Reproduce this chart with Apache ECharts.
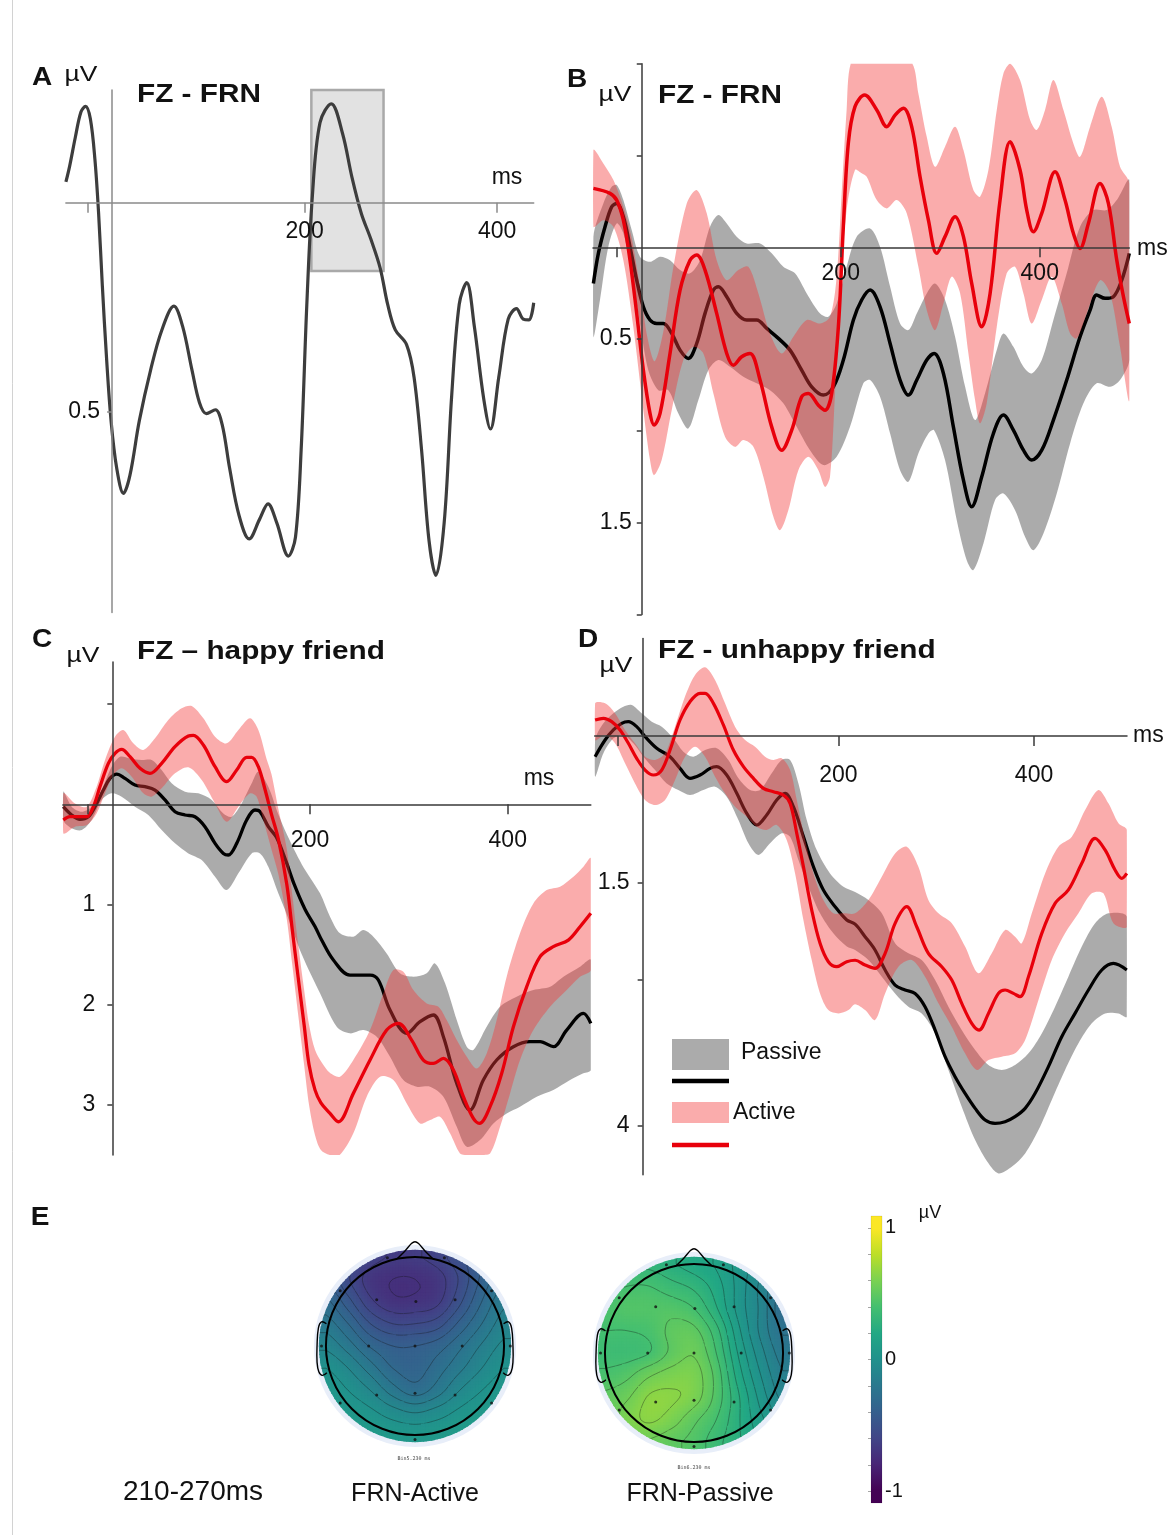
<!DOCTYPE html>
<html>
<head>
<meta charset="utf-8">
<script src="https://cdn.jsdelivr.net/npm/echarts@6/dist/echarts.min.js"></script>
<style>html,body{margin:0;padding:0;background:#fff;}#chart{width:1175px;height:1535px;}</style>
</head>
<body>
<div id="chart"></div>
<script>
// ================= DATA (time in ms, amplitude in µV) =================
const xTicks = [-25, 200, 400];
const xTickLabels = [200, 400];
const aYTicks = [0.5], aYLabels = [0.5];
const bYTicks = [-1, -0.5, 0.5, 1, 1.5, 2], bYLabels = [0.5, 1.5];
const cYTicks = [-1, 1, 2, 3], cYLabels = [1, 2, 3];
const dYTicks = [1.5, 2.5, 4], dYLabels = [1.5, 4];

// Panel A: FZ - FRN difference wave
const aFRN = [[-48,-0.05],[-44.1,-0.088],[-38.2,-0.157],[-32.3,-0.218],[-27.6,-0.231],[-22.6,-0.201],[-17.9,-0.105],[-14,0.026],[-10.1,0.2],[-5.7,0.374],[-1.1,0.521],[4.8,0.635],[11.8,0.695],[18.5,0.652],[28.3,0.521],[40,0.4],[51.7,0.304],[64.2,0.247],[73.2,0.295],[83,0.4],[90.8,0.478],[97.9,0.504],[107.3,0.495],[114.3,0.53],[122.1,0.635],[131.9,0.748],[142.4,0.804],[153.4,0.756],[162,0.72],[171,0.765],[183.1,0.845],[190.5,0.8],[196.4,0.591],[202.3,0.243],[208.1,-0.018],[216,-0.192],[227.7,-0.237],[239.4,-0.166],[249.2,-0.061],[259,0.026],[268.7,0.086],[278.5,0.156],[286.3,0.243],[294.2,0.304],[305.9,0.339],[313.7,0.417],[321.5,0.591],[329.3,0.809],[336.4,0.891],[345,0.765],[352.8,0.461],[360.6,0.243],[368.4,0.191],[376.3,0.295],[386.1,0.469],[393.1,0.541],[401.7,0.417],[411.5,0.278],[420.1,0.253],[427.1,0.278],[433,0.28],[438,0.239]];
const aWindow = [207, 282];        // ms
const aWindowAmp = [-0.27, 0.163]; // µV

// Panel B: FZ - FRN, Active vs Passive
const bActive = [[-48.6,-0.321],[-31.9,-0.294],[-25.2,-0.257],[-18.5,-0.148],[-11.8,0.07],[-5.1,0.36],[1.6,0.669],[8.3,0.905],[12.3,0.968],[18.4,0.905],[28.4,0.578],[38.5,0.233],[48.5,0.07],[55.2,0.042],[63.6,0.124],[75.3,0.36],[85.4,0.578],[92.1,0.642],[100.4,0.596],[108.8,0.578],[118.9,0.723],[130.6,0.978],[140.6,1.105],[150.7,0.996],[160.7,0.814],[167.4,0.796],[177.5,0.86],[184.2,0.887],[190.9,0.796],[197.6,0.433],[202.6,-0.112],[207.6,-0.566],[214.3,-0.766],[224,-0.829],[236.2,-0.748],[246.2,-0.657],[254.6,-0.72],[263,-0.757],[271.3,-0.657],[279.7,-0.384],[288.1,-0.148],[296.5,0.033],[304.8,-0.058],[314.9,-0.167],[323.3,-0.058],[331.6,0.197],[341.7,0.433],[350.1,0.251],[360.1,-0.257],[370.2,-0.575],[380.2,-0.421],[386.9,-0.203],[393.6,-0.085],[402,-0.185],[415.4,-0.412],[425.4,-0.257],[433.8,-0.076],[440.5,0.006],[448.9,-0.13],[460.6,-0.348],[469,-0.239],[477.4,0.07],[484.1,0.269],[490,0.415]];
const bActiveUpper = [[-48.6,-0.53],[-38.6,-0.457],[-28.5,-0.366],[-18.5,-0.221],[-10.1,-0.05],[-1,0.25],[6,0.5],[13,0.62],[22,0.45],[32,0.1],[45.2,-0.239],[55.2,-0.312],[65.3,-0.185],[75.3,0.07],[85.4,0.179],[97.1,0.124],[107.1,0.106],[117.2,0.251],[128.9,0.469],[140.6,0.578],[152.4,0.487],[165.8,0.396],[179.2,0.415],[189.2,0.378],[195.9,0.16],[200.9,-0.294],[205.9,-0.748],[210,-1.05],[220,-1.25],[240,-1.3],[260,-1.25],[272,-1.05],[278,-0.838],[286.4,-0.602],[294.8,-0.439],[304.8,-0.548],[314.9,-0.657],[323.3,-0.53],[333.3,-0.312],[340,-0.276],[348.4,-0.421],[356.8,-0.748],[363.5,-0.947],[370.2,-1.02],[380.2,-0.911],[390.3,-0.693],[397,-0.639],[405.3,-0.748],[413.7,-0.911],[423.8,-0.748],[433.8,-0.566],[440.5,-0.493],[450.6,-0.657],[462.3,-0.82],[472.3,-0.657],[480.7,-0.439],[490,-0.348]];
const bActiveLower = [[-48.6,-0.112],[-38.6,-0.148],[-28.5,-0.112],[-18.5,0.07],[-8.5,0.433],[1.6,0.887],[8.3,1.159],[12.3,1.241],[20,1.159],[30.1,0.887],[41.8,0.614],[51.9,0.542],[61.9,0.578],[72,0.796],[83.7,1.032],[93.8,1.087],[102.1,1.05],[112.2,1.087],[122.2,1.25],[132.3,1.468],[138.9,1.541],[147.3,1.432],[157.4,1.214],[167.4,1.141],[177.5,1.214],[184.2,1.305],[189.2,1.25],[194.2,0.796],[199.3,0.251],[205.9,-0.203],[214.3,-0.421],[221,-0.403],[226.1,-0.384],[236.2,-0.257],[246.2,-0.212],[256.3,-0.257],[266.3,-0.185],[278,0.106],[286.4,0.342],[294.8,0.451],[303.2,0.306],[311.5,0.16],[320,0.251],[328.3,0.578],[335,0.832],[340,0.959],[346.7,0.85],[356.8,0.433],[366.8,0.142],[375.2,0.106],[383.6,0.251],[391.9,0.415],[402,0.287],[412,0.16],[422.1,0.306],[430.5,0.469],[437.2,0.496],[447.2,0.36],[460.6,0.179],[470.7,0.251],[480.7,0.542],[490,0.832]];
const bPassive = [[-48.6,0.197],[-43.6,0.033],[-36.9,-0.112],[-30.2,-0.221],[-25.2,-0.239],[-18.5,-0.166],[-11.8,-0.003],[-5.1,0.179],[1.6,0.324],[8.3,0.396],[15,0.415],[21.7,0.415],[30.1,0.469],[38.5,0.56],[46.8,0.605],[55.2,0.524],[63.6,0.36],[72,0.233],[77,0.215],[85.4,0.269],[95.4,0.36],[105.5,0.396],[115.5,0.396],[125.6,0.442],[137.3,0.496],[149,0.56],[160.7,0.669],[170.8,0.76],[182.5,0.805],[192.6,0.76],[202.6,0.614],[212.7,0.396],[221,0.287],[229.5,0.233],[239.5,0.324],[249.6,0.524],[259.6,0.723],[268,0.805],[276.4,0.723],[286.4,0.614],[293.8,0.578],[303.2,0.687],[313.2,0.978],[323.3,1.268],[331.6,1.413],[341.7,1.25],[353.4,1.014],[363.5,0.914],[373.5,0.996],[383.6,1.105],[391.9,1.159],[402,1.105],[413.7,0.941],[427.1,0.723],[440.5,0.487],[450.6,0.342],[457.2,0.26],[465.6,0.278],[474,0.269],[482.4,0.179],[490,0.033]];
const bPassiveUpper = [[-48.6,-0.058],[-38.6,-0.239],[-30.2,-0.33],[-25.2,-0.339],[-18.5,-0.257],[-10.1,-0.094],[-1.8,0.051],[8.3,0.079],[18.4,0.051],[28.4,0.07],[38.5,0.124],[48.5,0.142],[58.6,0.07],[68.6,-0.112],[77,-0.176],[85.4,-0.13],[95.4,-0.058],[105.5,-0.021],[118.9,-0.021],[130.6,0.033],[142.3,0.106],[154,0.142],[165.8,0.251],[179.2,0.36],[187.5,0.378],[195.9,0.306],[205.9,0.106],[216,-0.058],[229.5,-0.103],[239.5,-0.003],[249.6,0.215],[259.6,0.415],[268,0.451],[276.4,0.36],[286.4,0.251],[294.8,0.197],[304.8,0.287],[314.9,0.487],[325,0.76],[335,0.941],[345,0.796],[356.8,0.56],[363.5,0.469],[373.5,0.542],[383.6,0.651],[391.9,0.687],[402,0.614],[413.7,0.396],[427.1,0.142],[440.5,-0.112],[453.9,-0.203],[467.3,-0.203],[477.4,-0.257],[490,-0.366]];
const bPassiveLower = [[-48.6,0.487],[-42,0.287],[-33.6,-0.003],[-25.2,-0.13],[-18.5,-0.076],[-10.1,0.142],[-1.8,0.415],[6.6,0.669],[16.7,0.778],[26.7,0.778],[36.8,0.905],[46.8,0.987],[56.9,0.832],[66.9,0.669],[77,0.614],[88.7,0.651],[102.1,0.705],[115.5,0.741],[128.9,0.778],[142.3,0.85],[155.7,0.978],[169.1,1.105],[182.5,1.186],[195.9,1.141],[209.3,0.978],[222.7,0.741],[229.5,0.723],[239.5,0.814],[249.6,1.014],[259.6,1.214],[268,1.277],[278,1.123],[288.1,1.014],[293.8,0.996],[304.8,1.159],[316.6,1.486],[326.6,1.704],[333.3,1.758],[343.4,1.613],[355.1,1.377],[363.5,1.341],[375.2,1.432],[385.2,1.577],[393.6,1.65],[403.7,1.559],[417.1,1.341],[430.5,1.068],[443.9,0.85],[457.2,0.741],[470.7,0.76],[480.7,0.723],[490,0.614]];

// Panel C: FZ - happy friend
const cActive = [[-49.6,0.157],[-42.8,0.124],[-34.4,0.124],[-26,0.124],[-19.2,0.024],[-12.5,-0.176],[-4,-0.409],[2.7,-0.508],[9.4,-0.548],[17.9,-0.475],[28,-0.359],[38.1,-0.309],[49.9,-0.409],[63.4,-0.575],[76.9,-0.681],[81.9,-0.688],[92.1,-0.592],[103.9,-0.375],[115.7,-0.226],[125.8,-0.342],[135.9,-0.469],[141,-0.469],[147.7,-0.375],[154.4,-0.15],[161,0.1],[168,0.35],[176.5,0.8],[182,1.25],[188,1.73],[194,2.2],[199,2.6],[205,2.85],[211,2.98],[220.2,3.085],[228.6,3.168],[243.8,2.885],[260.7,2.552],[277.5,2.253],[289.3,2.186],[302.8,2.353],[314.6,2.552],[324.7,2.586],[334.9,2.536],[345,2.652],[355.1,2.918],[365.2,3.135],[371.3,3.185],[382.1,3.018],[393.9,2.685],[405.7,2.22],[419.2,1.82],[432.7,1.521],[446.1,1.421],[461.3,1.355],[473.1,1.222],[484,1.088]];
const cActiveUpper = [[-49.6,-0.109],[-37.8,-0.009],[-26,0.024],[-15.9,-0.176],[-7.4,-0.442],[2.7,-0.675],[11.1,-0.741],[21.2,-0.608],[31.4,-0.542],[43.2,-0.658],[56.6,-0.841],[70.1,-0.958],[80.3,-0.981],[92.1,-0.858],[103.9,-0.675],[115.7,-0.608],[127.5,-0.741],[139.3,-0.858],[147.7,-0.741],[156.1,-0.45],[161,-0.3],[168,0.05],[176.5,0.45],[182,0.9],[188,1.4],[194,1.85],[199,2.2],[205,2.45],[212,2.58],[220,2.68],[230.3,2.719],[243.8,2.552],[260.7,2.253],[274.2,1.887],[284.3,1.654],[294.4,1.671],[304.5,1.854],[318,1.987],[329.8,2.02],[338.2,2.153],[348.4,2.353],[358.5,2.519],[368.6,2.636],[378.7,2.486],[388.8,2.153],[398.9,1.721],[412.4,1.288],[425.9,0.989],[439.4,0.856],[452.9,0.822],[466.4,0.723],[476.5,0.623],[484,0.54]];
const cActiveLower = [[-49.6,0.29],[-37.8,0.224],[-26,0.207],[-15.9,0.091],[-7.4,-0.109],[1,-0.292],[9.4,-0.359],[19.6,-0.276],[31.4,-0.109],[39.8,-0.076],[49.9,-0.159],[63.4,-0.309],[76.9,-0.369],[90.4,-0.242],[103.9,-0.009],[115.7,0.174],[127.5,0.024],[139.3,-0.109],[146,-0.076],[152.8,0.157],[161,0.45],[168,0.7],[176.5,1.15],[182,1.6],[188,2.1],[194,2.6],[199,3.0],[205,3.3],[211,3.45],[220,3.55],[230,3.6],[243.8,3.284],[257.3,2.918],[270.8,2.719],[284.3,2.752],[297.8,2.985],[311.3,3.185],[321.4,3.151],[331.5,3.118],[341.6,3.284],[351.7,3.484],[358.5,3.62],[371.9,3.65],[382.1,3.484],[392.2,3.218],[402.3,2.885],[412.4,2.552],[425.9,2.253],[442.8,2.02],[459.6,1.854],[473.1,1.721],[484,1.654]];
const cPassive = [[-49.6,0.024],[-41.1,0.107],[-32.7,0.15],[-24.3,0.124],[-17.5,0.024],[-9.1,-0.142],[-2.4,-0.259],[4.4,-0.302],[12.8,-0.259],[22.9,-0.192],[33,-0.176],[43.2,-0.142],[53.3,-0.043],[63.4,0.074],[73.5,0.107],[83.6,0.124],[93.7,0.223],[103.9,0.39],[112.3,0.49],[117.3,0.506],[125.8,0.39],[135.9,0.157],[144.3,0.057],[149.4,0.074],[157.8,0.223],[166,0.33],[175,0.55],[184,0.8],[195,1.05],[205,1.22],[212,1.36],[223.6,1.554],[240.4,1.704],[260.7,1.704],[269.1,1.754],[280.9,2.053],[297.8,2.286],[311.3,2.17],[324.7,2.103],[334.9,2.32],[348.4,2.785],[361.8,3.051],[375.3,2.752],[388.8,2.552],[405.7,2.419],[422.5,2.369],[432.7,2.369],[446.1,2.419],[459.6,2.253],[476.5,2.087],[484,2.186]];
const cPassiveUpper = [[-49.6,-0.126],[-41.1,0.024],[-31,0.074],[-20.9,0.024],[-10.8,-0.142],[-0.7,-0.375],[7.8,-0.475],[17.9,-0.458],[29.7,-0.442],[39.8,-0.442],[49.9,-0.342],[60,-0.209],[73.5,-0.126],[87,-0.109],[100.5,-0.043],[112.3,0.091],[120.7,0.124],[130.8,-0.009],[141,-0.209],[147.7,-0.325],[157.8,-0.176],[167.9,0.1],[176.5,0.3],[191.7,0.6],[210.1,0.889],[220.2,1.122],[230.3,1.288],[243.8,1.321],[253.9,1.255],[264,1.321],[277.5,1.488],[291,1.687],[304.5,1.721],[318,1.687],[326.4,1.588],[336.6,1.787],[348.4,2.153],[358.5,2.419],[365.2,2.452],[378.7,2.22],[392.2,2.02],[409,1.92],[425.9,1.854],[442.8,1.821],[456.3,1.721],[473.1,1.621],[484,1.554]];
const cPassiveLower = [[-49.6,0.157],[-41.1,0.24],[-31,0.257],[-20.9,0.157],[-10.8,-0.043],[-0.7,-0.109],[9.4,-0.076],[22.9,0.024],[36.4,0.107],[49.9,0.257],[63.4,0.39],[76.9,0.49],[90.4,0.556],[103.9,0.722],[115.7,0.856],[127.5,0.689],[141,0.49],[149.4,0.49],[157.8,0.623],[167.9,0.889],[176.5,1.1],[191.7,1.5],[210.1,1.887],[227,2.22],[240.4,2.286],[253.9,2.253],[267.4,2.32],[280.9,2.519],[294.4,2.752],[307.9,2.818],[321.4,2.818],[334.9,2.918],[348.4,3.218],[358.5,3.418],[371.9,3.351],[385.5,3.185],[398.9,3.085],[412.4,3.018],[429.3,2.918],[446.1,2.852],[463,2.752],[476.5,2.685],[484,2.652]];

// Panel D: FZ - unhappy friend
const dActive = [[-48.6,-0.164],[-40.1,-0.181],[-31.6,-0.147],[-23.1,-0.062],[-14.6,0.075],[-6.1,0.229],[2.5,0.349],[11,0.4],[19.5,0.349],[28,0.144],[38.2,-0.164],[48.4,-0.352],[58.7,-0.438],[63.8,-0.438],[72.3,-0.335],[82.5,-0.113],[92.7,0.144],[103,0.314],[113.2,0.434],[123.4,0.537],[133.6,0.571],[143.8,0.605],[150.7,0.691],[157.5,0.998],[164.3,1.34],[172.8,1.785],[181.3,2.126],[189.8,2.315],[198.4,2.366],[208.6,2.315],[217.1,2.3],[227.3,2.349],[237.5,2.383],[247.8,2.229],[258,1.921],[269.9,1.75],[280.1,1.956],[292,2.229],[305.7,2.366],[315.9,2.503],[326.1,2.742],[336.3,2.947],[343.8,3.016],[353.4,2.845],[363.6,2.64],[370.4,2.605],[378.9,2.64],[385.7,2.674],[394.3,2.469],[407.9,2.024],[421.5,1.716],[435.1,1.579],[448.8,1.306],[462.4,1.05],[472.6,1.169],[482.8,1.374],[489.7,1.46],[494.8,1.409]];
const dActiveUpper = [[-48.6,-0.335],[-38.4,-0.335],[-28.2,-0.233],[-18,-0.062],[-7.8,0.075],[2.5,0.212],[12.7,0.246],[22.9,0.178],[33.1,-0.096],[43.3,-0.404],[53.6,-0.626],[63.8,-0.704],[74,-0.574],[84.2,-0.335],[94.4,-0.096],[104.7,0.041],[114.9,0.109],[125.1,0.212],[133.6,0.246],[142.1,0.229],[150.7,0.349],[157.5,0.656],[166,1.067],[174.5,1.409],[184.7,1.682],[194.9,1.819],[205.2,1.819],[217.1,1.819],[230.7,1.682],[244.4,1.443],[258,1.204],[269.9,1.135],[281.8,1.34],[292,1.682],[302.3,1.819],[315.9,1.921],[329.5,2.16],[343.2,2.434],[356.8,2.229],[370.4,1.99],[380.6,2.058],[387.5,2.126],[397.7,1.819],[411.3,1.409],[424.9,1.135],[438.6,1.033],[452.2,0.759],[465.8,0.554],[476,0.691],[486.3,0.896],[494.8,0.964]];
const dActiveLower = [[-48.6,0.041],[-38.4,-0.01],[-28.2,0.075],[-18,0.28],[-7.8,0.486],[2.5,0.656],[12.7,0.708],[22.9,0.656],[33.1,0.451],[43.3,0.212],[53.6,0.109],[63.8,0.212],[74,0.417],[84.2,0.588],[94.4,0.725],[106.4,0.827],[116.6,0.93],[126.8,0.964],[137,0.913],[147.2,1.067],[155.8,1.409],[164.3,1.887],[172.8,2.298],[181.3,2.64],[189.8,2.811],[200.1,2.845],[210.3,2.811],[217.1,2.75],[227.3,2.811],[237.5,2.913],[247.8,2.64],[261.4,2.366],[275,2.298],[288.6,2.469],[302.3,2.742],[315.9,2.981],[329.5,3.255],[341.5,3.426],[353.4,3.323],[367,3.289],[380.6,3.255],[390.9,3.118],[404.5,2.708],[418.1,2.298],[431.7,2.024],[445.4,1.819],[459,1.614],[470.9,1.614],[481.1,1.921],[494.8,1.956]];
const dPassive = [[-48.6,0.212],[-38.4,0.041],[-29.9,-0.062],[-21.4,-0.13],[-14.6,-0.147],[-6.1,-0.096],[2.5,0.007],[14.4,0.126],[28,0.212],[38.2,0.332],[48.4,0.434],[58.7,0.4],[68.9,0.332],[75.7,0.315],[85.9,0.4],[96.2,0.588],[106.4,0.793],[116.6,0.913],[126.8,0.81],[137,0.656],[145.5,0.588],[154.1,0.725],[164.3,1.032],[174.5,1.34],[184.7,1.58],[196.7,1.751],[208.6,1.887],[217.1,1.93],[227.3,2.058],[237.5,2.195],[247.8,2.4],[258,2.554],[268.2,2.605],[278.4,2.64],[288.6,2.776],[298.9,3.016],[309.1,3.289],[319.3,3.494],[329.5,3.665],[339.8,3.819],[350,3.939],[360.2,3.973],[370.4,3.956],[380.6,3.904],[390.9,3.819],[401.1,3.665],[414.7,3.391],[428.3,3.084],[441.9,2.845],[455.6,2.605],[469.2,2.4],[481.1,2.332],[494.8,2.4]];
const dPassiveUpper = [[-48.6,0.041],[-40.1,-0.13],[-29.9,-0.233],[-19.7,-0.301],[-11.2,-0.318],[-1,-0.233],[9.3,-0.147],[19.5,-0.096],[31.4,0.024],[41.6,0.161],[51.9,0.212],[63.8,0.144],[75.7,0.126],[87.6,0.246],[97.9,0.434],[109.8,0.554],[120,0.554],[131.9,0.383],[142.1,0.246],[150.7,0.246],[159.2,0.486],[167.7,0.862],[177.9,1.17],[191.5,1.409],[205.2,1.545],[217.1,1.6],[230.7,1.682],[244.4,1.819],[258,2.126],[271.6,2.229],[285.2,2.298],[298.9,2.503],[312.5,2.776],[326.1,3.016],[339.8,3.221],[353.4,3.375],[367,3.426],[380.6,3.375],[394.3,3.255],[407.9,3.05],[421.5,2.776],[435.1,2.469],[448.8,2.16],[462.4,1.921],[476,1.819],[494.8,1.853]];
const dPassiveLower = [[-48.6,0.417],[-40.1,0.178],[-29.9,0.024],[-19.7,-0.01],[-9.5,0.075],[0.8,0.212],[12.7,0.349],[24.6,0.486],[36.5,0.554],[48.4,0.605],[62.1,0.554],[74,0.52],[85.9,0.622],[97.9,0.862],[108.1,1.101],[118.3,1.221],[130.2,1.101],[142.1,0.998],[150.7,1.033],[159.2,1.272],[169.4,1.545],[181.3,1.819],[194.9,2.024],[208.6,2.16],[217.1,2.195],[230.7,2.298],[244.4,2.469],[258,2.64],[271.6,2.776],[285.2,2.845],[298.9,3.05],[312.5,3.426],[326.1,3.802],[339.8,4.144],[353.4,4.383],[363.6,4.486],[377.2,4.418],[390.9,4.281],[404.5,4.042],[418.1,3.733],[431.7,3.426],[445.4,3.152],[459,2.947],[472.6,2.845],[486.3,2.845],[494.8,2.879]];

// Panel E: scalp maps 210-270 ms (µV on a 9x9 grid over the head, rows top->bottom)
const topoX = [-1, -0.75, -0.5, -0.25, 0, 0.25, 0.5, 0.75, 1];
const topoY = [1, 0.75, 0.5, 0.25, 0, -0.25, -0.5, -0.75, -1];
const topoActive = [
  [-0.45,-0.5,-0.6,-0.65,-0.65,-0.6,-0.5,-0.4,-0.3],
  [-0.4,-0.55,-0.68,-0.72,-0.72,-0.68,-0.55,-0.38,-0.25],
  [-0.3,-0.45,-0.62,-0.7,-0.7,-0.66,-0.5,-0.32,-0.18],
  [-0.2,-0.32,-0.48,-0.56,-0.56,-0.52,-0.38,-0.24,-0.12],
  [-0.1,-0.2,-0.33,-0.4,-0.4,-0.36,-0.26,-0.15,-0.06],
  [0.0,-0.08,-0.2,-0.32,-0.36,-0.28,-0.18,-0.08,0.0],
  [0.06,0.0,-0.08,-0.2,-0.28,-0.2,-0.08,0.0,0.05],
  [0.1,0.06,0.02,-0.04,-0.08,-0.04,0.02,0.06,0.08],
  [0.12,0.1,0.08,0.06,0.05,0.06,0.08,0.1,0.1]
];
const topoPassive = [
  [0.3,0.3,0.3,0.25,0.2,0.15,0.05,-0.05,-0.15],
  [0.36,0.4,0.4,0.35,0.3,0.2,0.05,-0.1,-0.25],
  [0.42,0.45,0.45,0.45,0.4,0.25,0.05,-0.1,-0.3],
  [0.4,0.4,0.42,0.5,0.5,0.35,0.1,-0.1,-0.25],
  [0.37,0.37,0.4,0.5,0.55,0.4,0.15,-0.05,-0.2],
  [0.42,0.46,0.55,0.6,0.6,0.45,0.2,0.0,-0.15],
  [0.5,0.55,0.65,0.65,0.6,0.45,0.25,0.05,-0.1],
  [0.5,0.6,0.65,0.6,0.5,0.4,0.25,0.1,0.0],
  [0.5,0.55,0.55,0.5,0.45,0.35,0.25,0.15,0.1]
];
const electrodes = [[-0.31,0.99],[0.33,0.99],[-0.84,0.62],[-0.43,0.52],[0.01,0.5],[0.45,0.52],[0.86,0.62],[-1.05,0],[-0.52,0],[0,0],[0.53,0],[1.07,0],[-0.84,-0.64],[-0.43,-0.55],[0,-0.53],[0.45,-0.55],[0.86,-0.64],[0,-1.05]];
const cbarTicks = [-1,-0.8,-0.6,-0.4,-0.2,0,0.2,0.4,0.6,0.8,1];
const cbarLabels = [-1, 0, 1];
const cbarExtent = [-1.09, 1.09];

// ================= STYLE / HELPERS =================
const FONT = '"Liberation Sans", Arial, Helvetica, sans-serif';
const PASSIVE_BAND = 'rgba(105,105,105,0.56)';
const ACTIVE_BAND = 'rgba(242,58,58,0.42)';
const PASSIVE_LINE = '#000000';
const ACTIVE_LINE = '#e8000b';
const VIR = ['#440154','#482475','#414487','#355f8d','#2a788e','#21918c','#22a884','#44bf70','#7ad151','#bddf26','#fde725']
  .map(h => [parseInt(h.slice(1,3),16), parseInt(h.slice(3,5),16), parseInt(h.slice(5,7),16)]);
function viridis(v) {
  let t = (v + 1) / 2; t = Math.max(0, Math.min(1, t));
  const p = t * 10, i = Math.min(9, Math.floor(p)), f = p - i, a = VIR[i], b = VIR[i + 1];
  return 'rgb(' + Math.round(a[0] + (b[0] - a[0]) * f) + ',' + Math.round(a[1] + (b[1] - a[1]) * f) + ',' + Math.round(a[2] + (b[2] - a[2]) * f) + ')';
}
function cr(p0, p1, p2, p3, t) {
  return 0.5 * (2 * p1 + (-p0 + p2) * t + (2 * p0 - 5 * p1 + 4 * p2 - p3) * t * t + (-p0 + 3 * p1 - 3 * p2 + p3) * t * t * t);
}
function fieldValue(g, x, y) {
  let gc = (x - topoX[0]) / (topoX[1] - topoX[0]), gr = (topoY[0] - y) / (topoY[0] - topoY[1]);
  gc = Math.max(0, Math.min(8, gc)); gr = Math.max(0, Math.min(8, gr));
  const c0 = Math.min(7, Math.floor(gc)), r0 = Math.min(7, Math.floor(gr));
  const fc = gc - c0, fr = gr - r0;
  const G = (r, c) => g[Math.max(0, Math.min(8, r))][Math.max(0, Math.min(8, c))];
  const rows = [];
  for (let k = -1; k <= 2; k++) rows.push(cr(G(r0 + k, c0 - 1), G(r0 + k, c0), G(r0 + k, c0 + 1), G(r0 + k, c0 + 2), fc));
  return cr(rows[0], rows[1], rows[2], rows[3], fr);
}

function bandSeries(name, idx, upper, lower, color, z) {
  return {
    type: 'custom', name, xAxisIndex: idx, yAxisIndex: idx, z, silent: true,
    data: upper.concat(lower.slice().reverse()),
    encode: { x: 0, y: 1 },
    renderItem: function (params, api) {
      if (params.dataIndexInside !== 0) return null;
      const n = params.dataInsideLength, pts = [];
      for (let i = 0; i < n; i++) pts.push(api.coord([api.value(0, i), api.value(1, i)]));
      const cs = params.coordSys;
      const clipped = echarts.graphic.clipPointsByRect(pts, cs);
      return {
        type: 'polygon',
        shape: { points: clipped, smooth: 0.3, smoothConstraint: [[cs.x, cs.y], [cs.x + cs.width, cs.y + cs.height]] },
        style: { fill: color }
      };
    }
  };
}
function lineSeries(name, idx, data, color, width, z) {
  return { type: 'line', name, xAxisIndex: idx, yAxisIndex: idx, data, z, silent: true,
    showSymbol: false, symbol: 'none', smooth: 0.35, lineStyle: { color, width } };
}

// ERP panel layout: grid box + axis ranges; the axes are moved onto the zero lines via offset
const panels = [
  { grid: { left: 65.9, top: 90, width: 467.8, height: 522.5 }, x: [-48, 438], y: [-0.27, 0.98], yT: aYTicks, yL: aYLabels, xm: 17, ym: 12, col: '#8a8a8a' },
  { grid: { left: 593, top: 63.7, width: 536.3, height: 550.8 }, x: [-49, 490], y: [-1, 2], yT: bYTicks, yL: bYLabels, xm: 15, ym: 10, col: '#3a3a3a' },
  { grid: { left: 62.9, top: 662, width: 527.9, height: 493 }, x: [-50, 484], y: [-1.42, 3.5], yT: cYTicks, yL: cYLabels, xm: 25, ym: 17, col: '#3a3a3a' },
  { grid: { left: 594.7, top: 638.5, width: 532.3, height: 536.25 }, x: [-49, 495], y: [-1, 4.5], yT: dYTicks, yL: dYLabels, xm: 28, ym: 13, col: '#3a3a3a' }
];
function erpX(gi, p) {
  const off = -p.grid.height * p.y[1] / (p.y[1] - p.y[0]);
  return { gridIndex: gi, type: 'value', min: p.x[0], max: p.x[1], position: 'bottom', offset: off, z: 8,
    axisLine: { onZero: false, lineStyle: { color: p.col, width: 1.5 } },
    axisTick: { show: true, length: 10, customValues: xTicks, lineStyle: { color: p.col, width: 1.5 } },
    axisLabel: { show: true, customValues: xTickLabels, margin: p.xm, fontSize: 23, fontFamily: FONT, color: '#111' },
    splitLine: { show: false } };
}
function erpY(gi, p) {
  const off = -p.grid.width * (0 - p.x[0]) / (p.x[1] - p.x[0]);
  return { gridIndex: gi, type: 'value', inverse: true, min: p.y[0], max: p.y[1], position: 'left', offset: off, z: 8,
    axisLine: { onZero: false, lineStyle: { color: p.col, width: 1.5 } },
    axisTick: { show: true, length: 5, customValues: p.yT, lineStyle: { color: p.col, width: 1.5 } },
    axisLabel: { show: true, customValues: p.yL, margin: p.ym, fontSize: 23, fontFamily: FONT, color: '#111' },
    splitLine: { show: false } };
}
function hiddenAxis(gi, min, max) {
  return { gridIndex: gi, type: 'value', min, max, show: false, splitLine: { show: false } };
}

// scalp map layers
const HEAD_R = 1.08;
const CONTOUR_STEP = 0.08;
function topoHalo(gi) {
  return { type: 'custom', xAxisIndex: gi, yAxisIndex: gi, z: 1, silent: true, data: [[0, 0]],
    renderItem: (p, api) => {
      const c = api.coord([api.value(0), api.value(1)]), u = api.size([1, 1])[0];
      return { type: 'circle', shape: { cx: c[0], cy: c[1], r: u * 1.135 }, style: { fill: '#e8eef9' } };
    } };
}
function topoField(gi, grid) {
  const data = [];
  for (let r = 0; r < topoY.length; r++) for (let c = 0; c < topoX.length; c++) data.push([topoX[c], topoY[r], grid[r][c]]);
  return { type: 'custom', xAxisIndex: gi, yAxisIndex: gi, z: 2, silent: true, data,
    renderItem: (params, api) => {
      const cx = api.value(0), cy = api.value(1);
      const h = (topoX[1] - topoX[0]) / 2;
      const dx = Math.max(Math.abs(cx) - h, 0), dy = Math.max(Math.abs(cy) - h, 0);
      if (dx * dx + dy * dy > HEAD_R * HEAD_R) return null;
      const u = api.size([1, 1])[0], o = api.coord([0, 0]);
      const N = 8, st = 2 * h / N;
      const X = i => o[0] + (cx - h + i * st) * u;
      const Y = j => o[1] - (cy + h - j * st) * u;
      const vals = [];
      for (let j = 0; j <= N; j++) { const row = []; for (let i = 0; i <= N; i++) row.push(fieldValue(grid, cx - h + i * st, cy + h - j * st)); vals.push(row); }
      const children = [];
      for (let j = 0; j < N; j++) for (let i = 0; i < N; i++) {
        const v = (vals[j][i] + vals[j][i + 1] + vals[j + 1][i] + vals[j + 1][i + 1]) / 4;
        children.push({ type: 'rect', shape: { x: X(i) - 0.3, y: Y(j) - 0.3, width: st * u + 0.8, height: st * u + 0.8 }, style: { fill: viridis(v) } });
      }
      let path = '';
      const lvMin = -1 + CONTOUR_STEP / 2;
      for (let L = lvMin; L < 1; L += CONTOUR_STEP) {
        for (let j = 0; j < N; j++) for (let i = 0; i < N; i++) {
          const a = vals[j][i], b = vals[j][i + 1], c = vals[j + 1][i + 1], d = vals[j + 1][i];
          const pts = [];
          if ((a - L) * (b - L) < 0) { const t = (L - a) / (b - a); pts.push([X(i + t), Y(j)]); }
          if ((b - L) * (c - L) < 0) { const t = (L - b) / (c - b); pts.push([X(i + 1), Y(j + t)]); }
          if ((d - L) * (c - L) < 0) { const t = (L - d) / (c - d); pts.push([X(i + t), Y(j + 1)]); }
          if ((a - L) * (d - L) < 0) { const t = (L - a) / (d - a); pts.push([X(i), Y(j + t)]); }
          for (let k = 0; k + 1 < pts.length; k += 2)
            path += 'M' + pts[k][0].toFixed(2) + ' ' + pts[k][1].toFixed(2) + 'L' + pts[k + 1][0].toFixed(2) + ' ' + pts[k + 1][1].toFixed(2);
        }
      }
      if (path) children.push({ type: 'path', shape: { pathData: path }, style: { fill: null, stroke: 'rgba(20,20,20,0.5)', lineWidth: 0.7 } });
      return { type: 'group', children, clipPath: { type: 'circle', shape: { cx: o[0], cy: o[1], r: HEAD_R * u } } };
    } };
}
function topoOutline(gi) {
  return { type: 'custom', xAxisIndex: gi, yAxisIndex: gi, z: 3, silent: true, data: [[0, 0]],
    renderItem: (p, api) => {
      const o = api.coord([api.value(0), api.value(1)]), u = api.size([1, 1])[0];
      const P = (x, y) => [o[0] + x * u, o[1] - y * u];
      const nose = [[-0.2, 0.98], [-0.11, 1.07], [-0.04, 1.15], [0, 1.17], [0.04, 1.15], [0.11, 1.07], [0.2, 0.98]].map(q => P(q[0], q[1]));
      const earL = [[-0.995, 0.25], [-1.05, 0.27], [-1.085, 0.2], [-1.1, 0.0], [-1.1, -0.18], [-1.08, -0.29], [-1.04, -0.33], [-0.99, -0.3]].map(q => P(q[0], q[1]));
      const earR = [[0.995, 0.25], [1.05, 0.27], [1.085, 0.2], [1.1, 0.0], [1.1, -0.18], [1.08, -0.29], [1.04, -0.33], [0.99, -0.3]].map(q => P(q[0], q[1]));
      const st = { fill: null, stroke: '#000', lineWidth: 1.4 };
      return { type: 'group', children: [
        { type: 'circle', shape: { cx: o[0], cy: o[1], r: u }, style: { fill: null, stroke: '#000', lineWidth: 2 } },
        { type: 'polyline', shape: { points: nose, smooth: 0.3 }, style: st },
        { type: 'polyline', shape: { points: earL, smooth: 0.4 }, style: st },
        { type: 'polyline', shape: { points: earR, smooth: 0.4 }, style: st }
      ] };
    } };
}
function topoDots(gi) {
  return { type: 'scatter', xAxisIndex: gi, yAxisIndex: gi, z: 4, silent: true, data: electrodes,
    symbolSize: 3, itemStyle: { color: '#111' } };
}

function T(x, y, text, size, o) {
  o = o || {};
  return { type: 'text', x, y, scaleX: o.sx || 1, z: 100, silent: true,
    style: { text, fontSize: size, fontFamily: o.family || FONT, fontWeight: o.bold ? 'bold' : 'normal',
      fill: o.color || '#111', align: o.align || 'center', verticalAlign: 'middle' } };
}

// ================= OPTION =================
const grids = panels.map(p => p.grid).concat([
  { left: 312.6, top: 1243.6, width: 204.8, height: 204.8 }, // E left map
  { left: 591.6, top: 1250.6, width: 204.8, height: 204.8 }, // E right map
  { left: 871, top: 1216, width: 11, height: 287 }           // colorbar
]);
const xAxes = panels.map((p, i) => erpX(i, p)).concat([hiddenAxis(4, -1.15, 1.15), hiddenAxis(5, -1.15, 1.15), hiddenAxis(6, 0, 1)]);
const yAxes = panels.map((p, i) => erpY(i, p)).concat([
  hiddenAxis(4, -1.15, 1.15), hiddenAxis(5, -1.15, 1.15),
  { gridIndex: 6, type: 'value', min: cbarExtent[0], max: cbarExtent[1], position: 'right', z: 10,
    axisLine: { show: false },
    axisTick: { show: true, inside: true, length: 3, customValues: cbarTicks, lineStyle: { color: 'rgba(0,0,0,0.35)', width: 1 } },
    axisLabel: { show: true, customValues: cbarLabels, margin: 3, fontSize: 20, fontFamily: FONT, color: '#111' },
    splitLine: { show: false } }
]);

const cbarStops = [];
for (let k = 0; k <= 22; k++) { const v = cbarExtent[1] - (cbarExtent[1] - cbarExtent[0]) * k / 22; cbarStops.push({ offset: k / 22, color: viridis(v) }); }

const series = [
  { type: 'custom', name: 'FRN window', xAxisIndex: 0, yAxisIndex: 0, z: 1, silent: true,
    data: [[aWindow[0], aWindowAmp[0], aWindow[1], aWindowAmp[1]]],
    renderItem: (p, api) => {
      const p0 = api.coord([api.value(0), api.value(1)]), p1 = api.coord([api.value(2), api.value(3)]);
      return { type: 'rect', shape: { x: p0[0], y: p0[1], width: p1[0] - p0[0], height: p1[1] - p0[1] },
        style: { fill: 'rgba(190,190,190,0.45)', stroke: '#a9a9a9', lineWidth: 2.5 } };
    } },
  lineSeries('FRN', 0, aFRN, '#3d3d3d', 3.2, 3),

  bandSeries('Passive SE', 1, bPassiveUpper, bPassiveLower, PASSIVE_BAND, 2),
  lineSeries('Passive', 1, bPassive, PASSIVE_LINE, 3.5, 3),
  bandSeries('Active SE', 1, bActiveUpper, bActiveLower, ACTIVE_BAND, 4),
  lineSeries('Active', 1, bActive, ACTIVE_LINE, 3.5, 5),

  bandSeries('Passive SE', 2, cPassiveUpper, cPassiveLower, PASSIVE_BAND, 2),
  lineSeries('Passive', 2, cPassive, PASSIVE_LINE, 3.3, 3),
  bandSeries('Active SE', 2, cActiveUpper, cActiveLower, ACTIVE_BAND, 4),
  lineSeries('Active', 2, cActive, ACTIVE_LINE, 3.3, 5),

  bandSeries('Passive SE', 3, dPassiveUpper, dPassiveLower, PASSIVE_BAND, 2),
  lineSeries('Passive', 3, dPassive, PASSIVE_LINE, 3.2, 3),
  bandSeries('Active SE', 3, dActiveUpper, dActiveLower, ACTIVE_BAND, 4),
  lineSeries('Active', 3, dActive, ACTIVE_LINE, 3.2, 5),

  topoHalo(4), topoField(4, topoActive), topoOutline(4), topoDots(4),
  topoHalo(5), topoField(5, topoPassive), topoOutline(5), topoDots(5),

  { type: 'custom', name: 'colorbar', xAxisIndex: 6, yAxisIndex: 6, z: 2, silent: true,
    data: [[0, cbarExtent[0], 1, cbarExtent[1]]],
    renderItem: (p, api) => {
      const p0 = api.coord([api.value(0), api.value(3)]), p1 = api.coord([api.value(2), api.value(1)]);
      return { type: 'rect', shape: { x: p0[0], y: p0[1], width: p1[0] - p0[0], height: p1[1] - p0[1] },
        style: { fill: new echarts.graphic.LinearGradient(0, 0, 0, 1, cbarStops), stroke: 'rgba(0,0,0,0.15)', lineWidth: 0.6 } };
    } }
];

const graphic = [
  { type: 'line', shape: { x1: 12.5, y1: 0, x2: 12.5, y2: 1535 }, style: { stroke: '#d2d2d2', lineWidth: 1 }, silent: true },
  // panel A
  T(42, 78, 'A', 25, { bold: true, sx: 1.12 }),
  T(81, 75, 'µV', 22, { sx: 1.2 }),
  T(137, 95, 'FZ - FRN', 25, { bold: true, align: 'left', sx: 1.19 }),
  T(507, 178, 'ms', 23),
  // panel B
  T(577, 80, 'B', 25, { bold: true, sx: 1.12 }),
  T(615, 95, 'µV', 22, { sx: 1.2 }),
  T(658, 96, 'FZ - FRN', 25, { bold: true, align: 'left', sx: 1.19 }),
  T(1137, 249, 'ms', 23, { align: 'left' }),
  // panel C
  T(42, 640, 'C', 25, { bold: true, sx: 1.12 }),
  T(83, 656, 'µV', 22, { sx: 1.2 }),
  T(137, 652, 'FZ – happy friend', 25, { bold: true, align: 'left', sx: 1.19 }),
  T(539, 779, 'ms', 23),
  // panel D
  T(588, 640, 'D', 25, { bold: true, sx: 1.12 }),
  T(616, 666, 'µV', 22, { sx: 1.2 }),
  T(658, 651, 'FZ - unhappy friend', 25, { bold: true, align: 'left', sx: 1.19 }),
  T(1133, 736, 'ms', 23, { align: 'left' }),
  // legend (panel D)
  { type: 'rect', shape: { x: 672, y: 1039, width: 57, height: 31 }, style: { fill: PASSIVE_BAND }, silent: true, z: 100 },
  { type: 'line', shape: { x1: 672, y1: 1081, x2: 729, y2: 1081 }, style: { stroke: PASSIVE_LINE, lineWidth: 4.5 }, silent: true, z: 100 },
  { type: 'rect', shape: { x: 672, y: 1102, width: 57, height: 21 }, style: { fill: ACTIVE_BAND }, silent: true, z: 100 },
  { type: 'line', shape: { x1: 672, y1: 1145, x2: 729, y2: 1145 }, style: { stroke: ACTIVE_LINE, lineWidth: 4.5 }, silent: true, z: 100 },
  T(741, 1053, 'Passive', 23, { align: 'left' }),
  T(733, 1113, 'Active', 23, { align: 'left' }),
  // panel E
  T(40, 1218, 'E', 25, { bold: true, sx: 1.12 }),
  T(193, 1492, '210-270ms', 28),
  T(415, 1494, 'FRN-Active', 25),
  T(700, 1494, 'FRN-Passive', 25),
  T(930, 1213, 'µV', 18),
  T(414, 1459, 'Bin5.230 ms', 5, { family: '"DejaVu Sans Mono", monospace', color: '#444' }),
  T(694, 1468, 'Bin6.230 ms', 5, { family: '"DejaVu Sans Mono", monospace', color: '#444' })
];

const chart = echarts.init(document.getElementById('chart'), null, { renderer: 'canvas', width: 1175, height: 1535 });
chart.setOption({
  backgroundColor: '#ffffff',
  animation: false,
  grid: grids,
  xAxis: xAxes,
  yAxis: yAxes,
  series,
  graphic
});
</script>
</body>
</html>
